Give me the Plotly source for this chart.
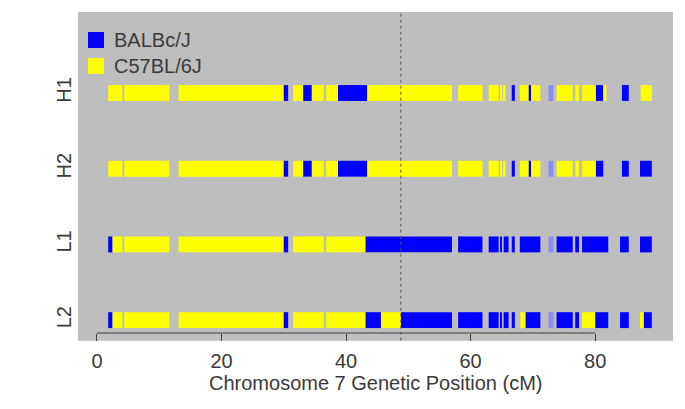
import plotly.graph_objects as go

# Genotype codes: 'B' = BALBc/J, 'C' = C57BL/6J, 'b' = ambiguous BALBc/J call
row_labels = ["H1", "H2", "L1", "L2"]
row_pos = [4, 3, 2, 1]

H1 = [(1.8, 4.1, 'C'), (4.4, 11.6, 'C'), (13.1, 29.9, 'C'), (30.0, 30.7, 'B'),
      (31.5, 33.1, 'C'), (33.1, 34.5, 'B'), (34.5, 36.4, 'C'), (36.8, 38.7, 'C'),
      (38.7, 43.4, 'B'), (43.4, 57.0, 'C'), (58.0, 61.9, 'C'), (62.9, 64.5, 'C'),
      (64.8, 65.0, 'C'), (65.3, 65.6, 'C'), (66.6, 67.1, 'B'), (67.9, 69.3, 'C'),
      (69.3, 69.7, 'B'), (69.7, 71.2, 'C'), (72.5, 73.3, 'b'), (73.8, 76.4, 'C'),
      (76.8, 77.4, 'C'), (77.9, 80.1, 'C'), (80.1, 81.3, 'B'), (81.3, 81.8, 'C'),
      (84.3, 85.4, 'B'), (87.3, 89.1, 'C')]

H2 = [(1.8, 4.1, 'C'), (4.4, 11.6, 'C'), (13.1, 29.9, 'C'), (30.0, 30.7, 'B'),
      (31.5, 33.1, 'C'), (33.1, 34.5, 'B'), (34.5, 36.4, 'C'), (36.8, 38.7, 'C'),
      (38.7, 43.4, 'B'), (43.4, 57.0, 'C'), (58.0, 61.9, 'C'), (62.9, 64.5, 'C'),
      (64.8, 65.0, 'C'), (65.3, 65.6, 'C'), (66.6, 67.1, 'B'), (67.9, 69.3, 'C'),
      (69.3, 69.7, 'B'), (69.7, 71.2, 'C'), (72.5, 73.3, 'b'), (73.8, 76.4, 'C'),
      (76.8, 77.4, 'C'), (77.9, 80.1, 'C'), (80.1, 81.3, 'B'), (84.3, 85.4, 'B'),
      (87.2, 89.1, 'B')]

L1 = [(1.8, 2.5, 'B'), (2.5, 4.1, 'C'), (4.4, 11.6, 'C'), (13.1, 29.9, 'C'),
      (30.0, 30.7, 'B'), (31.5, 36.4, 'C'), (36.8, 43.1, 'C'), (43.1, 57.0, 'B'),
      (58.0, 61.9, 'B'), (62.9, 64.5, 'B'), (64.8, 65.0, 'B'), (65.3, 66.1, 'B'),
      (66.6, 67.1, 'B'), (67.9, 71.2, 'B'), (72.5, 73.3, 'b'), (73.8, 76.4, 'B'),
      (76.8, 77.4, 'B'), (77.9, 82.1, 'B'), (84.0, 85.4, 'B'), (87.2, 89.1, 'B')]

L2 = [(1.8, 2.5, 'B'), (2.5, 4.1, 'C'), (4.4, 11.6, 'C'), (13.1, 29.9, 'C'),
      (30.0, 30.7, 'B'), (31.5, 36.4, 'C'), (36.8, 43.1, 'C'), (43.1, 45.6, 'B'),
      (45.6, 48.8, 'C'), (48.8, 57.0, 'B'), (58.0, 61.9, 'B'), (62.9, 64.5, 'B'),
      (64.8, 65.0, 'B'), (65.3, 66.1, 'B'), (66.6, 67.1, 'B'), (68.0, 68.8, 'C'),
      (68.8, 71.2, 'B'), (72.5, 73.3, 'b'), (73.8, 76.4, 'B'), (76.8, 77.4, 'B'),
      (77.9, 80.0, 'C'), (80.0, 82.1, 'B'), (84.0, 85.4, 'B'), (87.2, 87.8, 'C'),
      (87.8, 89.1, 'B')]

rows = [H1, H2, L1, L2]
marker_cM = 48.8
x_ticks = [0, 20, 40, 60, 80]
x_title = "Chromosome 7 Genetic Position (cM)"

legend_codes = ['B', 'C']
geno_names = {'B': 'BALBc/J', 'C': 'C57BL/6J', 'b': 'BALBc/J (uncertain)'}
geno_colors = {'B': '#0000FF', 'C': '#FFFF00', 'b': '#8C8CF0'}

fig = go.Figure()
for code in ['B', 'C', 'b']:
    ys, bases, widths = [], [], []
    for pos, segs in zip(row_pos, rows):
        for s, e, g in segs:
            if g == code:
                ys.append(pos)
                bases.append(s)
                widths.append(e - s)
    fig.add_trace(go.Bar(
        orientation='h', y=ys, x=widths, base=bases, width=0.21,
        marker=dict(color=geno_colors[code], line=dict(width=0)),
        name=geno_names[code], showlegend=False,
    ))

font_family = "Liberation Sans, Arial, sans-serif"
txt = "#3a3a3a"
bg = "#BEBEBE"
fs = 20

shapes = [
    dict(type='rect', xref='paper', yref='paper', x0=0, x1=1, y0=-0.024, y1=0,
         fillcolor=bg, line=dict(width=0), layer='below'),
    dict(type='line', xref='x', yref='paper', x0=marker_cM, x1=marker_cM,
         y0=-0.024, y1=1, line=dict(color='#555555', width=1, dash='dot')),
    dict(type='line', xref='x', yref='paper', x0=x_ticks[0], x1=x_ticks[-1],
         y0=0, y1=0, line=dict(color=txt, width=1)),
]
annotations = [dict(xref='paper', yref='paper', x=0.5, y=-0.1558,
                    xanchor='center', yanchor='middle', text=x_title,
                    showarrow=False, font=dict(size=fs, color=txt))]
leg_tops = [0.9377, 0.8567]
for code, top in zip(legend_codes, leg_tops):
    shapes.append(dict(type='rect', xref='paper', yref='paper',
                       x0=0.0168, x1=0.0437, y0=top - 0.0498, y1=top,
                       fillcolor=geno_colors[code], line=dict(width=0)))
    annotations.append(dict(xref='paper', yref='paper', x=0.0571,
                            y=top - 0.0249, xanchor='left', yanchor='middle',
                            text=geno_names[code], showarrow=False,
                            font=dict(size=fs, color=txt)))

fig.update_layout(
    width=685, height=409,
    margin=dict(l=70, r=20, t=4, b=84),
    paper_bgcolor="white",
    plot_bgcolor=bg,
    barmode='overlay',
    showlegend=False,
    font=dict(family=font_family, size=fs, color=txt),
    xaxis=dict(range=[-3.05, 92.5], tickvals=x_ticks, showgrid=False,
               zeroline=False, showline=False, ticks='outside', ticklen=7,
               tickcolor=txt, tickfont=dict(size=fs, color=txt),
               ticklabelstandoff=3, automargin=False),
    yaxis=dict(range=[0.83, 5.07], tickvals=row_pos, ticktext=row_labels,
               tickangle=-90, showgrid=False, zeroline=False, showline=False,
               ticks='', tickfont=dict(size=fs, color=txt), automargin=False,
               ticklabelstandoff=2),
    shapes=shapes,
    annotations=annotations,
)

fig.write_html("out.html")
